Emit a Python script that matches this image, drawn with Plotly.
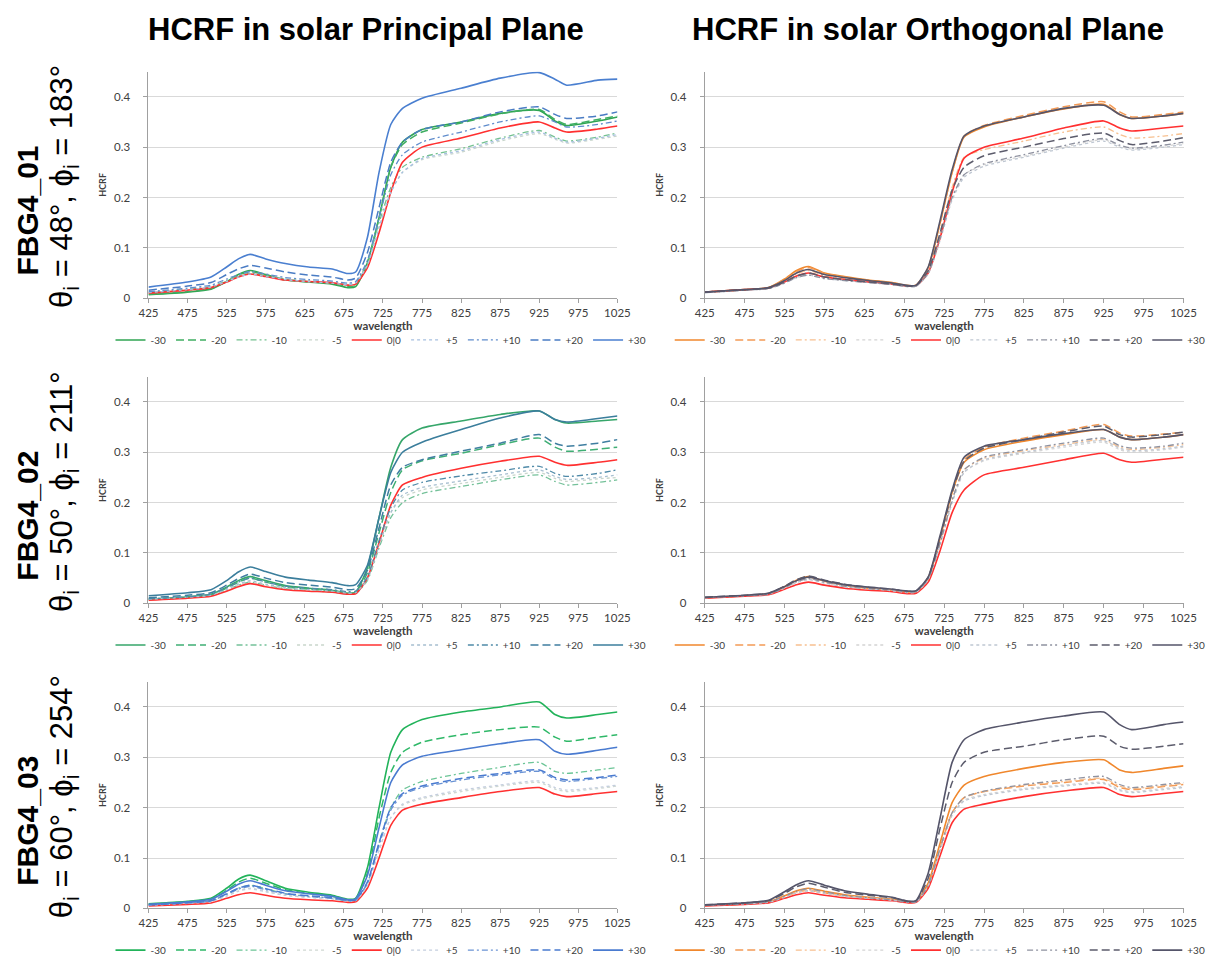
import plotly.graph_objects as go

# ---------------- data ----------------
WAVELENGTH = [425, 475, 505, 525, 540, 555, 575, 600, 630, 660, 680, 690,
              705, 720, 735, 750, 775, 825, 875, 925, 945, 960, 1000, 1025]
SERIES = ["-30", "-20", "-10", "-5", "0|0", "+5", "+10", "+20", "+30"]
ROW_IDS = ["FBG4_01", "FBG4_02", "FBG4_03"]
ROW_ANGLES = [("48", "183"), ("50", "211"), ("60", "254")]
TITLES = ["HCRF in solar Principal Plane", "HCRF in solar Orthogonal Plane"]
X_TICKS = [425, 475, 525, 575, 625, 675, 725, 775, 825, 875, 925, 975, 1025]
Y_TICKS = [0, 0.1, 0.2, 0.3, 0.4]

# FBG4_01 principal plane (order: -30 .. +30)
pp_01 = [
    [0.007,0.012,0.018,0.033,0.047,0.055,0.047,0.036,0.032,0.028,0.021,0.023,0.07,0.16,0.26,0.31,0.335,0.35,0.367,0.373,0.352,0.343,0.352,0.36],
    [0.008,0.013,0.019,0.033,0.046,0.053,0.046,0.037,0.033,0.029,0.023,0.025,0.07,0.16,0.26,0.305,0.33,0.348,0.366,0.375,0.355,0.345,0.355,0.362],
    [0.012,0.018,0.023,0.035,0.044,0.05,0.045,0.038,0.034,0.031,0.027,0.03,0.07,0.15,0.22,0.26,0.28,0.297,0.318,0.333,0.32,0.312,0.32,0.328],
    [0.011,0.017,0.022,0.033,0.042,0.048,0.043,0.037,0.033,0.03,0.027,0.03,0.065,0.14,0.21,0.25,0.275,0.29,0.312,0.327,0.316,0.308,0.316,0.322],
    [0.01,0.016,0.021,0.032,0.042,0.048,0.043,0.036,0.033,0.031,0.026,0.028,0.06,0.13,0.21,0.27,0.3,0.318,0.338,0.35,0.338,0.33,0.336,0.342],
    [0.011,0.017,0.022,0.033,0.042,0.048,0.043,0.037,0.033,0.03,0.027,0.03,0.065,0.14,0.21,0.25,0.277,0.293,0.315,0.33,0.318,0.31,0.318,0.325],
    [0.013,0.02,0.026,0.038,0.047,0.053,0.048,0.041,0.037,0.034,0.03,0.033,0.075,0.16,0.245,0.285,0.31,0.33,0.35,0.362,0.35,0.34,0.345,0.352],
    [0.016,0.024,0.031,0.047,0.058,0.065,0.06,0.052,0.046,0.042,0.036,0.04,0.09,0.18,0.27,0.31,0.335,0.35,0.37,0.38,0.365,0.357,0.362,0.37],
    [0.022,0.032,0.042,0.062,0.078,0.087,0.078,0.069,0.062,0.058,0.049,0.052,0.12,0.25,0.345,0.377,0.397,0.417,0.437,0.448,0.435,0.423,0.433,0.435],
]
# FBG4_01 orthogonal plane
op_01 = [
    [0.012,0.017,0.021,0.038,0.055,0.063,0.05,0.043,0.036,0.031,0.025,0.026,0.06,0.15,0.25,0.32,0.34,0.36,0.376,0.385,0.365,0.357,0.362,0.367],
    [0.012,0.017,0.021,0.037,0.053,0.061,0.049,0.042,0.035,0.03,0.025,0.026,0.06,0.15,0.25,0.322,0.343,0.363,0.38,0.39,0.37,0.36,0.365,0.37],
    [0.012,0.017,0.02,0.034,0.048,0.055,0.045,0.039,0.033,0.029,0.024,0.025,0.055,0.13,0.22,0.28,0.295,0.312,0.33,0.34,0.325,0.318,0.322,0.327],
    [0.011,0.016,0.019,0.031,0.043,0.049,0.041,0.036,0.031,0.027,0.023,0.024,0.05,0.12,0.2,0.245,0.265,0.282,0.3,0.315,0.302,0.296,0.302,0.307],
    [0.012,0.017,0.02,0.032,0.044,0.05,0.042,0.037,0.032,0.028,0.024,0.025,0.05,0.12,0.21,0.278,0.3,0.318,0.338,0.352,0.338,0.332,0.338,0.342],
    [0.011,0.016,0.019,0.03,0.041,0.046,0.039,0.035,0.031,0.027,0.023,0.024,0.048,0.115,0.195,0.24,0.262,0.28,0.298,0.312,0.3,0.294,0.3,0.305],
    [0.011,0.016,0.019,0.03,0.041,0.046,0.039,0.035,0.031,0.027,0.023,0.024,0.05,0.12,0.2,0.245,0.267,0.285,0.303,0.317,0.304,0.298,0.304,0.31],
    [0.012,0.017,0.02,0.032,0.044,0.05,0.042,0.037,0.032,0.028,0.024,0.025,0.055,0.13,0.215,0.26,0.283,0.3,0.317,0.328,0.313,0.305,0.312,0.319],
    [0.012,0.017,0.021,0.035,0.05,0.057,0.047,0.041,0.035,0.03,0.025,0.026,0.062,0.155,0.255,0.322,0.342,0.36,0.377,0.383,0.365,0.357,0.362,0.367],
]
# FBG4_02 principal plane
pp_02 = [
    [0.008,0.013,0.018,0.032,0.045,0.053,0.045,0.035,0.03,0.026,0.02,0.022,0.07,0.17,0.27,0.325,0.348,0.362,0.375,0.382,0.365,0.358,0.362,0.365],
    [0.008,0.012,0.016,0.03,0.042,0.05,0.042,0.033,0.028,0.025,0.02,0.021,0.06,0.14,0.22,0.265,0.283,0.298,0.315,0.328,0.31,0.302,0.306,0.31],
    [0.007,0.011,0.015,0.026,0.036,0.042,0.036,0.029,0.025,0.022,0.018,0.019,0.045,0.11,0.17,0.2,0.218,0.232,0.245,0.255,0.242,0.235,0.24,0.245],
    [0.007,0.011,0.015,0.026,0.036,0.042,0.036,0.029,0.025,0.022,0.018,0.019,0.047,0.115,0.18,0.21,0.225,0.238,0.25,0.26,0.248,0.242,0.247,0.25],
    [0.006,0.01,0.014,0.024,0.033,0.039,0.033,0.027,0.024,0.022,0.018,0.019,0.05,0.12,0.195,0.235,0.25,0.268,0.282,0.292,0.28,0.274,0.28,0.285],
    [0.008,0.012,0.016,0.028,0.038,0.045,0.038,0.031,0.027,0.024,0.02,0.021,0.048,0.115,0.18,0.215,0.23,0.243,0.255,0.265,0.252,0.246,0.25,0.255],
    [0.009,0.013,0.018,0.031,0.042,0.05,0.042,0.034,0.03,0.027,0.023,0.024,0.052,0.125,0.19,0.225,0.24,0.253,0.263,0.272,0.258,0.252,0.258,0.265],
    [0.011,0.016,0.021,0.036,0.049,0.058,0.05,0.041,0.036,0.032,0.027,0.029,0.065,0.15,0.235,0.27,0.285,0.302,0.318,0.335,0.318,0.312,0.318,0.325],
    [0.015,0.021,0.027,0.045,0.062,0.072,0.063,0.052,0.046,0.041,0.035,0.037,0.075,0.17,0.26,0.3,0.32,0.345,0.368,0.382,0.365,0.36,0.367,0.372],
]
# FBG4_02 orthogonal plane
op_02 = [
    [0.011,0.015,0.019,0.033,0.046,0.053,0.044,0.036,0.03,0.026,0.022,0.023,0.05,0.13,0.22,0.28,0.305,0.322,0.335,0.345,0.33,0.325,0.33,0.335],
    [0.011,0.015,0.019,0.033,0.046,0.053,0.044,0.036,0.03,0.026,0.022,0.023,0.05,0.13,0.22,0.285,0.31,0.328,0.342,0.355,0.338,0.332,0.336,0.34],
    [0.011,0.015,0.018,0.031,0.043,0.05,0.042,0.034,0.029,0.025,0.021,0.022,0.048,0.12,0.205,0.265,0.288,0.303,0.315,0.325,0.31,0.305,0.31,0.315],
    [0.011,0.015,0.018,0.03,0.042,0.048,0.041,0.034,0.029,0.025,0.021,0.022,0.047,0.118,0.2,0.26,0.283,0.298,0.31,0.32,0.305,0.3,0.305,0.31],
    [0.01,0.014,0.017,0.028,0.037,0.042,0.036,0.03,0.026,0.023,0.019,0.02,0.042,0.105,0.18,0.225,0.255,0.27,0.285,0.298,0.285,0.28,0.286,0.29],
    [0.011,0.015,0.018,0.03,0.041,0.047,0.04,0.033,0.029,0.025,0.021,0.022,0.047,0.118,0.2,0.26,0.285,0.3,0.313,0.323,0.308,0.303,0.307,0.312],
    [0.011,0.015,0.018,0.031,0.043,0.049,0.042,0.034,0.029,0.026,0.022,0.023,0.048,0.12,0.205,0.265,0.29,0.305,0.318,0.328,0.313,0.308,0.312,0.318],
    [0.012,0.016,0.02,0.034,0.047,0.054,0.046,0.038,0.032,0.028,0.024,0.025,0.052,0.13,0.22,0.282,0.308,0.325,0.34,0.352,0.335,0.33,0.335,0.34],
    [0.012,0.016,0.02,0.033,0.045,0.052,0.045,0.037,0.032,0.028,0.024,0.025,0.052,0.135,0.225,0.29,0.312,0.325,0.337,0.345,0.33,0.325,0.33,0.335],
]
# FBG4_03 principal plane
pp_03 = [
    [0.009,0.014,0.02,0.04,0.058,0.066,0.055,0.04,0.032,0.026,0.018,0.02,0.08,0.2,0.31,0.355,0.375,0.39,0.4,0.41,0.385,0.378,0.385,0.39],
    [0.008,0.013,0.018,0.036,0.052,0.06,0.05,0.037,0.03,0.024,0.017,0.019,0.07,0.18,0.27,0.31,0.33,0.345,0.355,0.36,0.34,0.332,0.34,0.345],
    [0.007,0.011,0.015,0.028,0.04,0.046,0.039,0.029,0.024,0.02,0.015,0.016,0.05,0.13,0.2,0.235,0.252,0.268,0.28,0.29,0.272,0.268,0.275,0.28],
    [0.006,0.01,0.014,0.025,0.035,0.04,0.034,0.026,0.022,0.019,0.014,0.015,0.045,0.115,0.18,0.205,0.218,0.232,0.243,0.25,0.237,0.232,0.238,0.243],
    [0.005,0.008,0.011,0.02,0.027,0.031,0.026,0.02,0.017,0.015,0.012,0.013,0.04,0.1,0.165,0.195,0.207,0.22,0.232,0.24,0.227,0.222,0.228,0.232],
    [0.006,0.01,0.013,0.024,0.034,0.039,0.033,0.026,0.022,0.019,0.014,0.015,0.045,0.115,0.18,0.207,0.22,0.235,0.245,0.253,0.24,0.235,0.24,0.245],
    [0.007,0.011,0.015,0.028,0.038,0.044,0.037,0.029,0.024,0.02,0.015,0.016,0.05,0.125,0.195,0.225,0.24,0.255,0.265,0.272,0.257,0.252,0.258,0.262],
    [0.007,0.011,0.015,0.029,0.04,0.046,0.039,0.03,0.025,0.021,0.016,0.017,0.052,0.13,0.2,0.228,0.243,0.258,0.268,0.275,0.26,0.255,0.26,0.265],
    [0.008,0.013,0.018,0.034,0.048,0.055,0.046,0.035,0.029,0.024,0.017,0.019,0.065,0.16,0.25,0.285,0.302,0.315,0.327,0.335,0.312,0.306,0.314,0.32],
]
# FBG4_03 orthogonal plane
op_03 = [
    [0.006,0.009,0.013,0.025,0.035,0.04,0.034,0.027,0.022,0.018,0.013,0.014,0.05,0.13,0.21,0.245,0.262,0.278,0.29,0.295,0.275,0.27,0.278,0.283],
    [0.006,0.009,0.012,0.023,0.032,0.036,0.031,0.025,0.021,0.017,0.012,0.013,0.045,0.12,0.19,0.22,0.232,0.243,0.25,0.256,0.24,0.236,0.242,0.246],
    [0.006,0.009,0.012,0.023,0.032,0.036,0.031,0.025,0.021,0.017,0.012,0.013,0.045,0.12,0.19,0.22,0.232,0.245,0.252,0.258,0.243,0.238,0.244,0.248],
    [0.006,0.009,0.012,0.022,0.031,0.035,0.03,0.024,0.02,0.016,0.012,0.013,0.044,0.115,0.185,0.215,0.226,0.238,0.245,0.25,0.236,0.232,0.238,0.242],
    [0.005,0.008,0.011,0.02,0.027,0.031,0.026,0.021,0.018,0.015,0.011,0.012,0.04,0.105,0.17,0.197,0.207,0.222,0.233,0.24,0.226,0.222,0.228,0.232],
    [0.006,0.009,0.012,0.022,0.031,0.035,0.03,0.024,0.02,0.016,0.012,0.013,0.044,0.115,0.185,0.213,0.224,0.236,0.243,0.248,0.234,0.23,0.236,0.24],
    [0.006,0.009,0.013,0.024,0.034,0.039,0.033,0.026,0.021,0.017,0.012,0.013,0.046,0.12,0.19,0.22,0.233,0.246,0.255,0.262,0.246,0.24,0.246,0.25],
    [0.007,0.011,0.015,0.03,0.043,0.05,0.042,0.032,0.026,0.021,0.014,0.015,0.06,0.16,0.25,0.29,0.31,0.322,0.335,0.342,0.322,0.316,0.322,0.327],
    [0.007,0.011,0.016,0.033,0.047,0.055,0.046,0.035,0.028,0.022,0.014,0.016,0.07,0.18,0.29,0.335,0.355,0.37,0.382,0.39,0.365,0.355,0.365,0.37],
]

PANELS = [pp_01, op_01, pp_02, op_02, pp_03, op_03]

# ---------------- styles ----------------
DASHES = ["solid", "8px,4px", "6px,3px,2px,3px", "dot", "solid", "dot",
          "6px,3px,2px,3px", "8px,4px", "solid"]
WIDTHS = [1.6, 1.5, 1.3, 1.3, 1.6, 1.3, 1.3, 1.5, 1.6]
COLORS_PP = [
    ["#2fa552", "#3fae62", "#74c190", "#c9d6cc", "#ff3030", "#a7c0e0", "#5f8ccc", "#4a7cc4", "#4a7fd0"],
    ["#36a66a", "#3fae74", "#74c199", "#c9d6cc", "#ff3030", "#a7bfd0", "#4f8aa8", "#3f7ea0", "#3b7e9c"],
    ["#22b35a", "#2fb868", "#6cc597", "#cfd8d2", "#ff3030", "#c4cede", "#6a93d4", "#4a7bd0", "#4a7bd0"],
]
COLORS_OP = ["#f0872c", "#f39a55", "#f7c090", "#d4d4d4", "#ff3030", "#bfc7d2", "#8f92a0", "#5c5c6c", "#55556a"]

FONT = "Lato, Open Sans, Arial, sans-serif"
W, H = 1216, 967
X_COLS = [(133, 611), (700, 1188)]
ROW_ZERO = [292, 599, 906]
PLOT_H = 228
LEGEND_CX = [370, 940]

fig = go.Figure()
layout = dict(
    width=W, height=H, margin=dict(l=0, r=0, t=0, b=0),
    paper_bgcolor="white", plot_bgcolor="white",
    font=dict(family=FONT, color="#404040"),
    annotations=[],
)

for k, data in enumerate(PANELS):
    r, c = divmod(k, 2)
    idx = k + 1
    xa = "x" if idx == 1 else f"x{idx}"
    ya = "y" if idx == 1 else f"y{idx}"
    lg = "legend" if idx == 1 else f"legend{idx}"
    colors = COLORS_PP[r] if c == 0 else COLORS_OP
    for s, name in enumerate(SERIES):
        fig.add_trace(go.Scatter(
            x=WAVELENGTH, y=data[s], name=name, mode="lines",
            xaxis=xa, yaxis=ya, legend=lg,
            line=dict(color=colors[s], width=WIDTHS[s], dash=DASHES[s],
                      shape="spline", smoothing=0.6),
            hoverinfo="skip",
        ))
    x0, x1 = X_COLS[c]
    yb = ROW_ZERO[r]
    yt = yb - PLOT_H
    layout["xaxis" if idx == 1 else f"xaxis{idx}"] = dict(
        domain=[x0 / W, x1 / W], anchor=ya, range=[425, 1025],
        tickvals=X_TICKS, ticks="outside", ticklen=4, tickcolor="#a0a0a0",
        showline=True, linecolor="#a0a0a0", linewidth=1, showgrid=False,
        zeroline=False, tickfont=dict(size=11.5, color="#404040"),
        title=dict(text="<b>wavelength</b>", font=dict(size=11.5, color="#404040"), standoff=0),
    )
    layout["yaxis" if idx == 1 else f"yaxis{idx}"] = dict(
        domain=[1 - yb / H, 1 - yt / H], anchor=xa, range=[0, 0.45],
        tickvals=Y_TICKS, ticktext=["0", "0.1", "0.2", "0.3", "0.4"],
        ticks="outside", ticklen=4, tickcolor="#a0a0a0", ticklabelstandoff=11,
        showline=True, linecolor="#a0a0a0", linewidth=1,
        showgrid=True, gridcolor="#d9d9d9", gridwidth=1, zeroline=False,
        tickfont=dict(size=11.5, color="#404040"),
        title=dict(text="<b>HCRF</b>", font=dict(size=9, color="#404040"), standoff=5),
    )
    layout[lg] = dict(
        orientation="h", x=LEGEND_CX[c] / W,
        xanchor="center", y=1 - (yb + 42) / H, yanchor="middle",
        font=dict(size=10, color="#404040"), bgcolor="rgba(0,0,0,0)",
        itemwidth=30, tracegroupgap=0,
    )

# column titles
TITLE_CX = [355, 928]
for c, t in enumerate(TITLES):
    layout["annotations"].append(dict(
        text=f"<b>{t}</b>", x=TITLE_CX[c] / W,
        y=1 - 22 / H, xref="paper", yref="paper", showarrow=False,
        xanchor="center", yanchor="middle",
        font=dict(family="Liberation Sans, Arial, sans-serif", size=31, color="black"),
    ))

# row labels
for r in range(3):
    th, ph = ROW_ANGLES[r]
    layout["annotations"].append(dict(
        text=f"<b>{ROW_IDS[r]}</b>", x=10 / W, y=1 - (204 + 307 * r) / H,
        xref="paper", yref="paper", showarrow=False, textangle=-90,
        xanchor="center", yanchor="middle",
        font=dict(family="Liberation Sans, Arial, sans-serif", size=30, color="black"),
    ))
    layout["annotations"].append(dict(
        text=f"θ<sub>i</sub> = {th}°, ϕ<sub>i</sub> = {ph}°", x=47 / W, y=1 - (180 + 307 * r) / H,
        xref="paper", yref="paper", showarrow=False, textangle=-90,
        xanchor="center", yanchor="middle",
        font=dict(family="Liberation Sans, Arial, sans-serif", size=31, color="black"),
    ))

fig.update_layout(**layout)
fig.write_html("out.html")
